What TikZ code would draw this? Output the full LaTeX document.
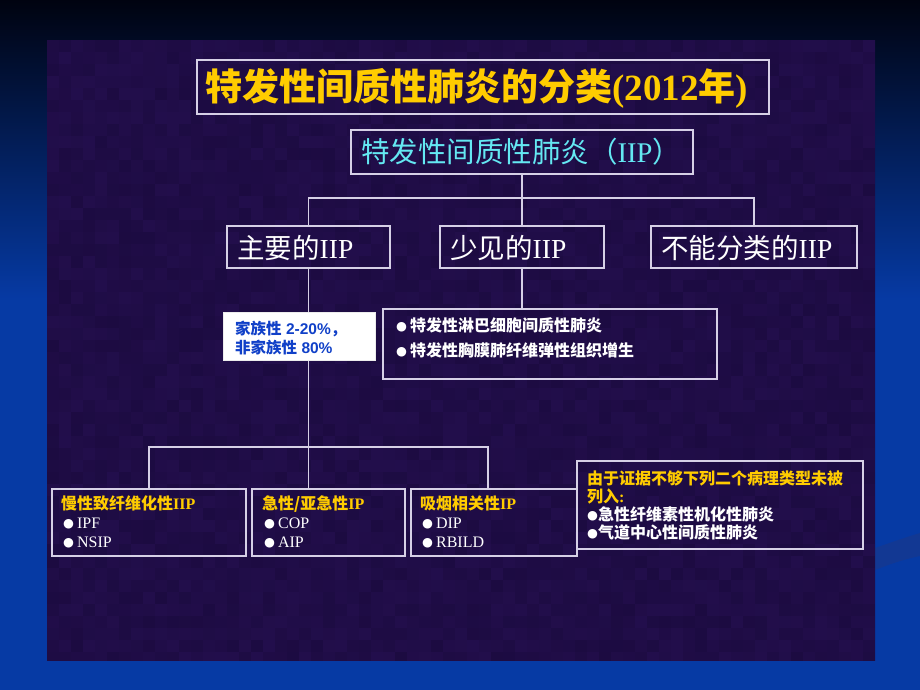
\documentclass[tikz,border=0pt]{standalone}
\usepackage{fontspec}
\setmainfont{Liberation Serif}
\setsansfont{Liberation Sans}
\newfontfamily\cjk{Noto Sans CJK SC}
\newfontfamily\dvs{DejaVu Sans}
\newcommand\zh[1]{{\cjk #1}}
\newcommand\bul{\raisebox{0.8pt}{\dvs\fontsize{12.5}{12.5}\selectfont ●}}
\definecolor{slideblue}{RGB}{6,58,164}
\definecolor{topnavy}{RGB}{0,3,16}
\definecolor{paneldark}{RGB}{20,8,52}
\definecolor{panelhi}{RGB}{42,17,88}
\definecolor{panel}{RGB}{30,12,70}
\definecolor{linec}{RGB}{214,208,230}
\definecolor{yel}{RGB}{255,204,0}
\definecolor{cyn}{RGB}{100,232,242}
\definecolor{famblue}{RGB}{16,64,200}
\definecolor{swoosh}{RGB}{24,56,140}
\begin{document}
\begin{tikzpicture}[x=1pt,y=-1pt,
  frame/.style={draw=linec, line width=1.8pt, inner sep=0pt},
  conn/.style={draw=linec, line width=1.5pt},
  txt/.style={anchor=base west, inner sep=0pt, align=left, text=white}
]
\useasboundingbox (0,0) rectangle (920,690);
% slide background
\fill[slideblue] (0,0) rectangle (920,690);
\shade[top color=topnavy, bottom color=slideblue] (0,0) rectangle (920,300);
\fill[swoosh, opacity=0.7] (875,548) .. controls (895,541) and (910,536) .. (920,533)
  -- (920,556) .. controls (905,559) and (890,564) .. (875,570) -- cycle;
% textured panel
\fill[panel] (47,40) rectangle (875,660);
\begin{scope}
\clip (47,40) rectangle (875,660);
\pgfmathsetseed{42}
\foreach \i in {0,...,69}{
  \foreach \j in {0,...,51}{
    \pgfmathsetmacro\pc{36+rnd*30}
    \fill[panelhi!\pc!paneldark] (47+\i*12,40+\j*12) rectangle +(12,12);
  }
}
\end{scope}
% boxes
\node[frame, minimum width=572, minimum height=54] (title) at (483,87) {};
\node[frame, minimum width=342, minimum height=44] (iip) at (522,152) {};
\node[frame, minimum width=163, minimum height=42] (main) at (308.5,247) {};
\node[frame, minimum width=164, minimum height=42] (rare) at (522,247) {};
\node[frame, minimum width=206, minimum height=42] (uncl) at (754,247) {};
\node[frame, minimum width=334, minimum height=70] (det) at (550,344) {};
\node[frame, minimum width=194, minimum height=67] (bA) at (149,522.5) {};
\node[frame, minimum width=153, minimum height=67] (bB) at (328.5,522.5) {};
\node[frame, minimum width=166, minimum height=67] (bC) at (494,522.5) {};
\node[frame, minimum width=286, minimum height=88] (nb) at (720,505) {};
% connectors
\coordinate (j1) at (522,198);
\coordinate (j3) at (488,447);
\draw[conn] (iip.south) -- (rare.north);
\draw[conn] (main.north) |- (j1) -| (uncl.north);
\draw[conn] (rare.south) -- (rare.south |- det.north);
\draw[conn] (main.south) -- (main.south |- bB.north);
\draw[conn] (bA.north) |- (j3) -- (j3 |- bC.north);
% white box (drawn over the line)
\node[fill=white, draw=white!85!gray, line width=0.6pt, minimum width=152, minimum height=48, inner sep=0pt] (fam) at (299,336) {};
% texts (base anchor = baseline of the last line)
\node[txt, text=yel, font=\bfseries\fontsize{37}{37}\selectfont] (titlet) at (205,101)
  {\zh{特发性间质性肺炎的分类}(2012\zh{年})};
\node[txt, text=cyn, font=\fontsize{28.5}{28.5}\selectfont] (iipt) at (361,162)
  {\zh{特发性间质性肺炎（}IIP\zh{）}};
\node[txt, font=\fontsize{27.5}{27.5}\selectfont] (maint) at (237,258) {\zh{主要的}IIP};
\node[txt, font=\fontsize{27.5}{27.5}\selectfont] (raret) at (450,258) {\zh{少见的}IIP};
\node[txt, font=\fontsize{27.5}{27.5}\selectfont] (unclt) at (661,258) {\zh{不能分类的}IIP};
\node[txt, text=famblue, font=\sffamily\bfseries\fontsize{15.5}{19}\selectfont] (famt) at (235,353)
  {\zh{家族性} 2-20\%\zh{，}\\\zh{非家族性} 80\%};
\node[txt, font=\bfseries\fontsize{16}{25}\selectfont] (dett) at (396,356)
  {\bul\hspace{3pt}\zh{特发性淋巴细胞间质性肺炎}\\\bul\hspace{3pt}\zh{特发性胸膜肺纤维弹性组织增生}};
\node[txt, font=\fontsize{16}{19}\selectfont] (bAt) at (61,547)
  {\textcolor{yel}{\bfseries\zh{慢性致纤维化性}IIP}\\\hspace*{2pt}\bul\hspace{3pt}IPF\\\hspace*{2pt}\bul\hspace{3pt}NSIP};
\node[txt, font=\fontsize{16}{19}\selectfont] (bBt) at (262,547)
  {\textcolor{yel}{\bfseries\zh{急性/亚急性}IP}\\\hspace*{2pt}\bul\hspace{3pt}COP\\\hspace*{2pt}\bul\hspace{3pt}AIP};
\node[txt, font=\fontsize{16}{19}\selectfont] (bCt) at (420,547)
  {\textcolor{yel}{\bfseries\zh{吸烟相关性}IP}\\\hspace*{2pt}\bul\hspace{3pt}DIP\\\hspace*{2pt}\bul\hspace{3pt}RBILD};
\node[txt, font=\bfseries\fontsize{16}{18}\selectfont] (nbt) at (587,538)
  {\textcolor{yel}{\zh{由于证据不够下列二个病理类型未被}}\\\textcolor{yel}{\zh{列入}:}\\\bul\zh{急性纤维素性机化性肺炎}\\\bul\zh{气道中心性间质性肺炎}};
\end{tikzpicture}
\end{document}
